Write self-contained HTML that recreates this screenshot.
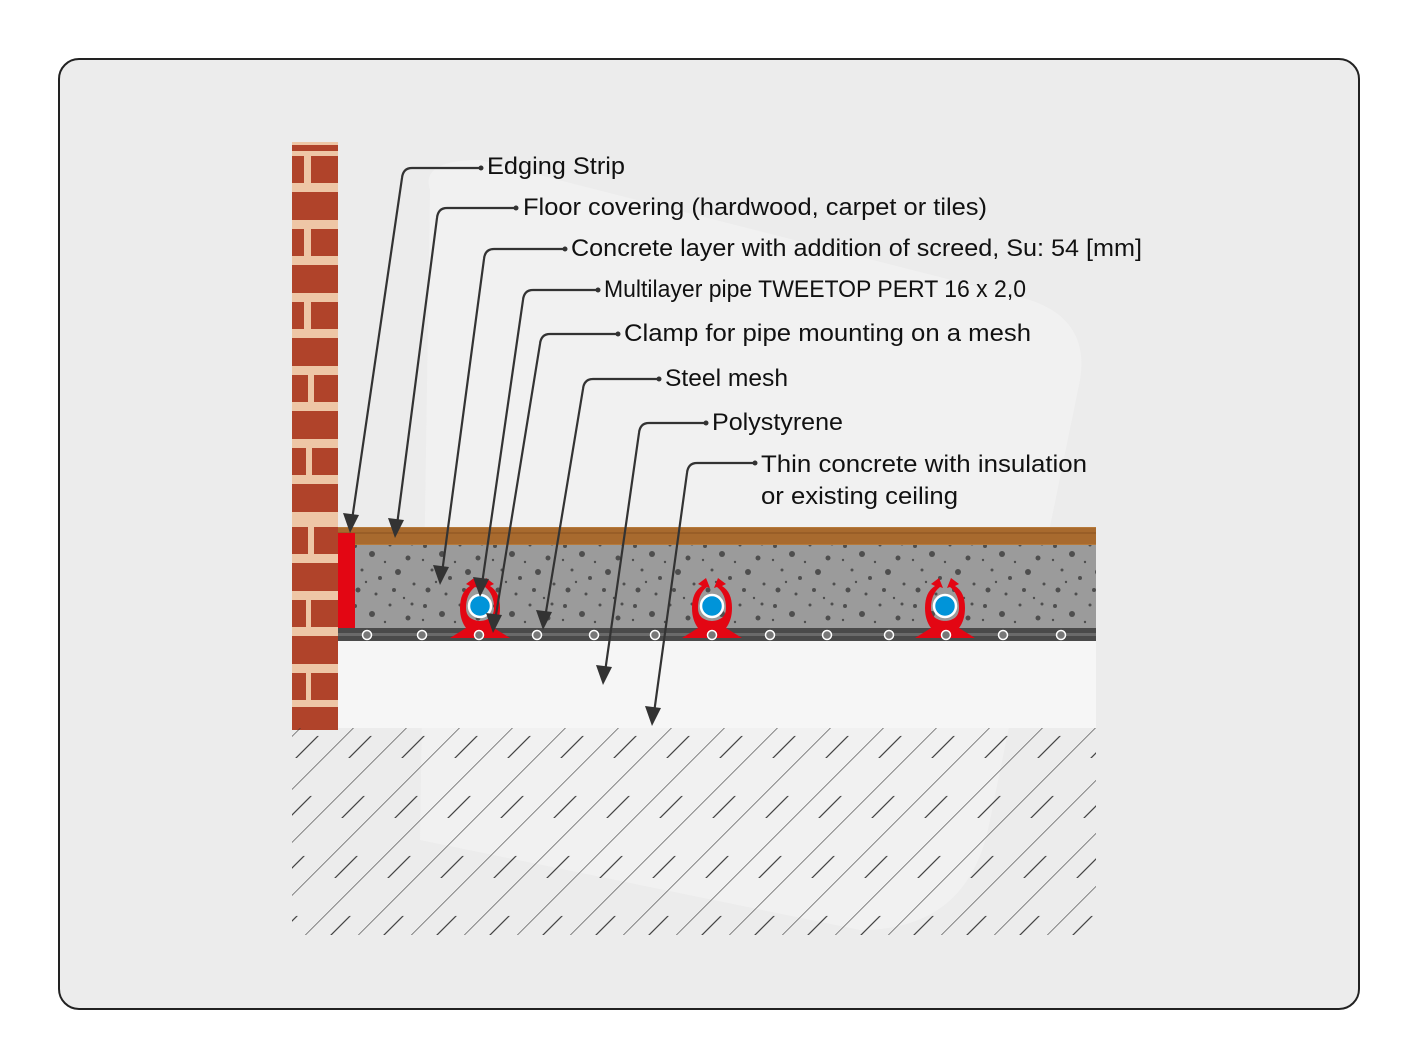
<!DOCTYPE html>
<html><head><meta charset="utf-8"><style>
html,body{margin:0;padding:0;background:#fff;}
svg{display:block;}
text{font-family:"Liberation Sans",sans-serif;font-size:24px;fill:#111;}
</style></head><body>
<svg width="1417" height="1063" viewBox="0 0 1417 1063" xmlns="http://www.w3.org/2000/svg">
<defs>
<pattern id="dots" width="70" height="60" patternUnits="userSpaceOnUse">
<rect width="70" height="60" fill="#9b9b9b"/>
<g fill="#4e4e4e">
<circle cx="5" cy="6" r="2"/><circle cx="22" cy="14" r="3"/><circle cx="40" cy="5" r="1.5"/><circle cx="58" cy="18" r="2.5"/>
<circle cx="12" cy="30" r="1.5"/><circle cx="30" cy="38" r="2"/><circle cx="48" cy="32" r="3"/><circle cx="64" cy="44" r="1.5"/>
<circle cx="8" cy="50" r="2.5"/><circle cx="26" cy="54" r="1.5"/><circle cx="44" cy="50" r="2"/><circle cx="62" cy="4" r="1.5"/>
<circle cx="35" cy="22" r="1.2"/><circle cx="16" cy="42" r="1.2"/><circle cx="54" cy="58" r="1.2"/><circle cx="3" cy="20" r="1.2"/>
</g></pattern>
<pattern id="hatch" width="53" height="60" patternUnits="userSpaceOnUse" patternTransform="translate(300,728) skewX(-45)">
<line x1="0" y1="0" x2="0" y2="60" stroke="#333" stroke-width="1.6"/>
<line x1="26" y1="8" x2="26" y2="30" stroke="#333" stroke-width="1.6"/>
</pattern>
<pattern id="wood" width="40" height="18" patternUnits="userSpaceOnUse">
<rect width="40" height="18" fill="#a86a2e"/>
<line x1="0" y1="5" x2="40" y2="5" stroke="#c58a48" stroke-width="1"/>
<line x1="0" y1="11" x2="40" y2="11" stroke="#8a5220" stroke-width="1"/>
</pattern>
<marker id="ah" viewBox="0 0 10 10" refX="9" refY="5" markerWidth="6" markerHeight="6" orient="auto-start-reverse" markerUnits="userSpaceOnUse">
</marker>
<g id="clamp">
<path d="M-30,32 L-14,22 Q-20,14 -20,2 Q-20,-14 -10,-20 L-14,-22 L-6,-28 L-2,-18 L-5,-19 Q-14,-12 -14,2 Q-14,14 0,15 Q14,14 14,2 Q14,-12 5,-19 L2,-18 L6,-28 L14,-22 L10,-20 Q20,-14 20,2 Q20,14 14,22 L30,32 Z" fill="#e30613"/>
<circle cx="0" cy="0" r="11" fill="#0094d9" stroke="#fff" stroke-width="2.5"/>
</g>
</defs>
<rect x="0" y="0" width="1417" height="1063" fill="#fff"/>
<rect x="59" y="59" width="1300" height="950" rx="20" fill="#ececec" stroke="#222" stroke-width="2"/>
<!-- watermark -->
<path d="M430,190 Q420,160 480,160 L1030,300 Q1090,320 1080,380 L990,820 Q970,930 860,930 L420,840 Z" fill="#f3f3f3" opacity="0.8"/>

<!-- brick wall -->
<rect x="292" y="142" width="46" height="588" fill="#eec6a6"/>
<g fill="#b0432a">
<rect x="292" y="145" width="46" height="6"/>
<rect x="292" y="156" width="12" height="27"/><rect x="311" y="156" width="27" height="27"/>
<rect x="292" y="192" width="46" height="28"/>
<rect x="292" y="229" width="12" height="27"/><rect x="311" y="229" width="27" height="27"/>
<rect x="292" y="265" width="46" height="28"/>
<rect x="292" y="302" width="12" height="27"/><rect x="311" y="302" width="27" height="27"/>
<rect x="292" y="338" width="46" height="28"/>
<rect x="292" y="375" width="16" height="27"/><rect x="314" y="375" width="24" height="27"/>
<rect x="292" y="411" width="46" height="28"/>
<rect x="292" y="448" width="14" height="27"/><rect x="312" y="448" width="26" height="27"/>
<rect x="292" y="484" width="46" height="28"/>
<rect x="292" y="527" width="16" height="27"/><rect x="314" y="527" width="24" height="27"/>
<rect x="292" y="563" width="46" height="28"/>
<rect x="292" y="600" width="14" height="27"/><rect x="311" y="600" width="27" height="27"/>
<rect x="292" y="636" width="46" height="28"/>
<rect x="292" y="673" width="14" height="27"/><rect x="311" y="673" width="27" height="27"/>
<rect x="292" y="707" width="46" height="23"/>
</g>

<!-- layers -->
<rect x="338" y="527" width="758" height="18" fill="url(#wood)"/>
<rect x="355" y="545" width="741" height="84" fill="url(#dots)"/>
<rect x="338" y="533" width="17" height="96" fill="#e30613"/>
<rect x="338" y="628" width="758" height="13" fill="#4a4a4a"/>
<rect x="338" y="633" width="758" height="3" fill="#6a6a6a"/>
<rect x="338" y="641" width="758" height="87" fill="#f6f6f6"/>
<rect x="292" y="728" width="804" height="207" fill="url(#hatch)"/>

<use href="#clamp" x="480" y="606"/>
<use href="#clamp" x="712" y="606"/>
<use href="#clamp" x="945" y="606"/>
<g fill="#777" stroke="#fff" stroke-width="1.5">
<circle cx="367" cy="635" r="4.5"/><circle cx="422" cy="635" r="4.5"/><circle cx="479" cy="635" r="4.5"/><circle cx="537" cy="635" r="4.5"/><circle cx="594" cy="635" r="4.5"/><circle cx="655" cy="635" r="4.5"/><circle cx="712" cy="635" r="4.5"/><circle cx="770" cy="635" r="4.5"/><circle cx="827" cy="635" r="4.5"/><circle cx="889" cy="635" r="4.5"/><circle cx="946" cy="635" r="4.5"/><circle cx="1003" cy="635" r="4.5"/><circle cx="1061" cy="635" r="4.5"/>
</g>

<!-- leaders -->
<g fill="none" stroke="#333" stroke-width="2.2">
<path d="M481,168 L412,168 Q403,168 402,178 L352,520"/>
<path d="M516,208 L447,208 Q438,208 437,218 L397,525"/>
<path d="M565,249 L494,249 Q485,249 484,259 L442,573"/>
<path d="M598,290 L533,290 Q524,290 523,300 L482,584"/>
<path d="M618,334 L550,334 Q541,334 540,344 L495,621"/>
<path d="M659,379 L593,379 Q584,379 583,389 L545,618"/>
<path d="M706,423 L649,423 Q640,423 639,433 L605,672"/>
<path d="M755,463 L697,463 Q688,463 687,473 L654,713"/>
</g>
<g fill="#333">
<circle cx="481" cy="168" r="2.5"/><circle cx="516" cy="208" r="2.5"/><circle cx="565" cy="249" r="2.5"/><circle cx="598" cy="290" r="2.5"/><circle cx="618" cy="334" r="2.5"/><circle cx="659" cy="379" r="2.5"/><circle cx="706" cy="423" r="2.5"/><circle cx="755" cy="463" r="2.5"/>
<polygon points="350,533 343,513 359,515"/>
<polygon points="395,538 388,518 404,520"/>
<polygon points="440,585 433,565 449,567"/>
<polygon points="480,597 473,577 489,579"/>
<polygon points="493,633 486,613 502,615"/>
<polygon points="543,630 536,610 552,612"/>
<polygon points="603,685 596,665 612,667"/>
<polygon points="652,726 645,706 661,708"/>
</g>

<text x="487" y="174" textLength="138" lengthAdjust="spacingAndGlyphs">Edging Strip</text>
<text x="523" y="215" textLength="464" lengthAdjust="spacingAndGlyphs">Floor covering (hardwood, carpet or tiles)</text>
<text x="571" y="256" textLength="571" lengthAdjust="spacingAndGlyphs">Concrete layer with addition of screed, Su: 54 [mm]</text>
<text x="604" y="297" textLength="422" lengthAdjust="spacingAndGlyphs">Multilayer pipe TWEETOP PERT 16 x 2,0</text>
<text x="624" y="341" textLength="407" lengthAdjust="spacingAndGlyphs">Clamp for pipe mounting on a mesh</text>
<text x="665" y="386" textLength="123" lengthAdjust="spacingAndGlyphs">Steel mesh</text>
<text x="712" y="430" textLength="131" lengthAdjust="spacingAndGlyphs">Polystyrene</text>
<text x="761" y="472" textLength="326" lengthAdjust="spacingAndGlyphs">Thin concrete with insulation</text>
<text x="761" y="504" textLength="197" lengthAdjust="spacingAndGlyphs">or existing ceiling</text>
</svg>
</body></html>
